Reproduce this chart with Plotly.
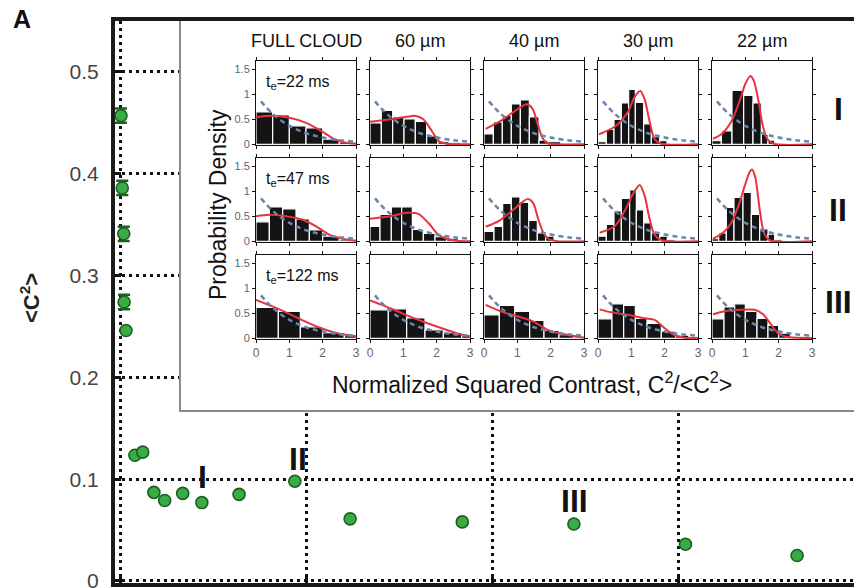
import plotly.graph_objects as go

W, H = 854, 588

# ---------------- main panel data ----------------
c2_x = [0.005, 0.012, 0.02, 0.022, 0.032, 0.08, 0.122, 0.182, 0.24, 0.337, 0.44, 0.64, 0.94,
        1.237, 1.84, 2.44, 3.04, 3.64]
c2_y = [0.457, 0.386, 0.341, 0.274, 0.246, 0.1235, 0.1265, 0.087, 0.079, 0.086, 0.077, 0.085,
        0.098, 0.061, 0.058, 0.056, 0.036, 0.025]
c2_err = [0.007, 0.007, 0.007, 0.007, 0.0, 0.0, 0.0, 0.0, 0.0, 0.0, 0.0, 0.0, 0.0, 0.0, 0.0, 0.0, 0.0, 0.0]
main_yticks = [0, 0.1, 0.2, 0.3, 0.4, 0.5]
main_yticktext = ["0", "0.1", "0.2", "0.3", "0.4", "0.5"]
main_xticks = [0, 1, 2, 3]

col_titles = ["FULL CLOUD", "60 µm", "40 µm", "30 µm", "22 µm"]
row_labels = ["t<sub>e</sub>=22 ms", "t<sub>e</sub>=47 ms", "t<sub>e</sub>=122 ms"]
row_numerals = ["I", "II", "III"]

# exponential speckle reference (blue dashed)
speckle_x = [0.15, 0.5, 1.0, 1.5, 2.0, 2.5, 3.0]
speckle_y = [0.86, 0.61, 0.37, 0.22, 0.135, 0.082, 0.05]

# ---------------- inset histograms: row 1 (22 ms) ----------------
p11_edges = [0, 0.5, 1.0, 1.5, 2.0, 2.5, 3.0]
p11_counts = [0.65, 0.59, 0.37, 0.33, 0.10, 0.04]
p11_fit_x = [0, 0.45, 1.0, 1.5, 2.0, 2.35, 2.7, 3.0]
p11_fit_y = [0.54, 0.57, 0.53, 0.43, 0.25, 0.10, 0.03, 0.01]

p12_edges = [0, 0.34, 0.68, 1.02, 1.36, 1.7, 2.04, 2.38, 2.72, 3.0]
p12_counts = [0.43, 0.68, 0.55, 0.51, 0.46, 0.17, 0.05, 0.03, 0.02]
p12_fit_x = [0, 0.6, 1.1, 1.35, 1.6, 1.85, 2.05, 2.3, 3.0]
p12_fit_y = [0.45, 0.50, 0.55, 0.57, 0.50, 0.27, 0.07, 0.01, 0.0]

p13_edges = [0, 0.28, 0.55, 0.82, 1.09, 1.36, 1.65, 1.92, 2.3]
p13_counts = [0.21, 0.45, 0.58, 0.81, 0.89, 0.55, 0.08, 0.05]
p13_fit_x = [0.05, 0.5, 1.0, 1.28, 1.45, 1.6, 1.75, 1.9, 2.2, 3.0]
p13_fit_y = [0.31, 0.47, 0.70, 0.80, 0.72, 0.43, 0.13, 0.02, 0.0, 0.0]

p14_edges = [0, 0.25, 0.48, 0.7, 0.92, 1.12, 1.37, 1.6, 1.85, 2.07]
p14_counts = [0.05, 0.30, 0.50, 0.83, 1.10, 0.84, 0.41, 0.15, 0.07]
p14_fit_x = [0.03, 0.5, 0.9, 1.1, 1.27, 1.4, 1.55, 1.7, 1.9, 3.0]
p14_fit_y = [0.20, 0.35, 0.65, 0.95, 1.07, 0.90, 0.45, 0.10, 0.01, 0.0]

p15_edges = [0, 0.28, 0.6, 0.95, 1.23, 1.48, 1.68, 1.88]
p15_counts = [0.07, 0.27, 1.08, 0.98, 0.83, 0.20, 0.08]
p15_fit_x = [0.03, 0.3, 0.6, 0.85, 1.0, 1.15, 1.25, 1.4, 1.5, 1.65, 1.85, 3.0]
p15_fit_y = [0.11, 0.21, 0.48, 0.91, 1.21, 1.37, 1.28, 0.85, 0.45, 0.11, 0.01, 0.0]

# ---------------- row 2 (47 ms) ----------------
p21_edges = [0, 0.4, 0.8, 1.2, 1.6, 2.0, 2.5, 3.0]
p21_counts = [0.39, 0.69, 0.65, 0.45, 0.23, 0.10, 0.03]
p21_fit_x = [0, 0.4, 0.9, 1.4, 1.8, 2.2, 2.6, 3.0]
p21_fit_y = [0.50, 0.53, 0.50, 0.43, 0.30, 0.13, 0.05, 0.01]

p22_edges = [0, 0.3, 0.64, 0.95, 1.27, 1.6, 1.95, 2.3, 2.65, 3.0]
p22_counts = [0.30, 0.54, 0.69, 0.69, 0.24, 0.16, 0.09, 0.05, 0.02]
p22_fit_x = [0, 0.6, 1.1, 1.45, 1.8, 2.05, 2.3, 2.6, 3.0]
p22_fit_y = [0.45, 0.50, 0.57, 0.55, 0.33, 0.13, 0.05, 0.01, 0.0]

p23_edges = [0, 0.3, 0.56, 0.82, 1.08, 1.34, 1.6, 1.85, 2.1]
p23_counts = [0.20, 0.30, 0.76, 0.89, 0.78, 0.42, 0.17, 0.10]
p23_fit_x = [0.05, 0.45, 0.84, 1.14, 1.32, 1.48, 1.63, 1.78, 1.93, 2.2, 3.0]
p23_fit_y = [0.29, 0.41, 0.61, 0.78, 0.85, 0.76, 0.44, 0.17, 0.05, 0.0, 0.0]

p24_edges = [0, 0.25, 0.48, 0.7, 0.95, 1.15, 1.37, 1.6, 1.85, 2.08, 2.3]
p24_counts = [0.10, 0.34, 0.61, 0.86, 1.03, 0.63, 0.37, 0.17, 0.10, 0.03]
p24_fit_x = [0.05, 0.5, 0.8, 1.05, 1.25, 1.4, 1.55, 1.7, 1.9, 3.0]
p24_fit_y = [0.17, 0.30, 0.61, 0.95, 1.13, 0.91, 0.44, 0.13, 0.02, 0.0]

p25_edges = [0, 0.2, 0.43, 0.66, 0.93, 1.18, 1.43, 1.68, 1.88, 2.1]
p25_counts = [0.05, 0.17, 0.68, 0.88, 0.98, 0.54, 0.25, 0.14, 0.03]
p25_fit_x = [0.03, 0.33, 0.58, 0.83, 0.98, 1.13, 1.2, 1.3, 1.43, 1.56, 1.73, 3.0]
p25_fit_y = [0.05, 0.17, 0.37, 0.78, 1.11, 1.39, 1.44, 1.28, 0.64, 0.17, 0.02, 0.0]

# ---------------- row 3 (122 ms) ----------------
p31_edges = [0, 0.67, 1.33, 2.0, 2.65, 3.0]
p31_counts = [0.62, 0.54, 0.23, 0.11, 0.05]
p31_fit_x = [0, 0.42, 1.0, 1.5, 2.0, 2.5, 3.0]
p31_fit_y = [0.77, 0.66, 0.49, 0.33, 0.19, 0.09, 0.04]

p32_edges = [0, 0.55, 1.1, 1.65, 2.2, 2.75, 3.0]
p32_counts = [0.57, 0.59, 0.41, 0.17, 0.11, 0.05]
p32_fit_x = [0, 0.4, 1.0, 1.6, 2.2, 2.7, 3.0]
p32_fit_y = [0.76, 0.66, 0.49, 0.33, 0.19, 0.08, 0.04]

p33_edges = [0, 0.46, 0.92, 1.37, 1.8, 2.25, 2.7, 3.0]
p33_counts = [0.47, 0.66, 0.54, 0.36, 0.16, 0.07, 0.03]
p33_fit_x = [0.05, 0.5, 1.0, 1.5, 1.93, 2.4, 2.85, 3.0]
p33_fit_y = [0.67, 0.54, 0.44, 0.33, 0.16, 0.08, 0.03, 0.01]

p34_edges = [0, 0.42, 0.77, 1.12, 1.47, 1.9, 2.33, 2.73, 3.0]
p34_counts = [0.39, 0.69, 0.66, 0.40, 0.30, 0.14, 0.06, 0.03]
p34_fit_x = [0.05, 0.4, 0.9, 1.4, 1.7, 2.0, 2.3, 2.6, 3.0]
p34_fit_y = [0.58, 0.52, 0.47, 0.40, 0.37, 0.20, 0.06, 0.01, 0.0]

p35_edges = [0, 0.36, 0.68, 1.0, 1.35, 1.68, 2.0, 2.35, 3.0]
p35_counts = [0.39, 0.63, 0.69, 0.54, 0.40, 0.26, 0.10, 0.03]
p35_fit_x = [0.03, 0.38, 0.88, 1.28, 1.53, 1.78, 1.98, 2.23, 3.0]
p35_fit_y = [0.48, 0.54, 0.57, 0.57, 0.48, 0.27, 0.10, 0.03, 0.0]

panels = [
    [(p11_edges, p11_counts, p11_fit_x, p11_fit_y), (p12_edges, p12_counts, p12_fit_x, p12_fit_y),
     (p13_edges, p13_counts, p13_fit_x, p13_fit_y), (p14_edges, p14_counts, p14_fit_x, p14_fit_y),
     (p15_edges, p15_counts, p15_fit_x, p15_fit_y)],
    [(p21_edges, p21_counts, p21_fit_x, p21_fit_y), (p22_edges, p22_counts, p22_fit_x, p22_fit_y),
     (p23_edges, p23_counts, p23_fit_x, p23_fit_y), (p24_edges, p24_counts, p24_fit_x, p24_fit_y),
     (p25_edges, p25_counts, p25_fit_x, p25_fit_y)],
    [(p31_edges, p31_counts, p31_fit_x, p31_fit_y), (p32_edges, p32_counts, p32_fit_x, p32_fit_y),
     (p33_edges, p33_counts, p33_fit_x, p33_fit_y), (p34_edges, p34_counts, p34_fit_x, p34_fit_y),
     (p35_edges, p35_counts, p35_fit_x, p35_fit_y)],
]

# ---------------- layout helpers ----------------
def fx(p):
    return p / W


def fy(p):
    return 1 - p / H


FONT = "Liberation Sans, Arial, Helvetica, sans-serif"
col_left = [256, 370, 484, 598, 712]
col_w = 100
row_bottom = [145, 242, 339]
row_h = 84

fig = go.Figure()
layout = dict(
    width=W, height=H, margin=dict(l=0, r=0, t=0, b=0, autoexpand=False),
    paper_bgcolor="white", plot_bgcolor="white", showlegend=False,
    font=dict(family=FONT, color="#222"),
)

# main axes
layout["xaxis"] = dict(
    domain=[fx(115), 1], range=[-0.027, 3.946], tickvals=main_xticks, showticklabels=False,
    ticks="inside", ticklen=6, tickwidth=3, tickcolor="#111", automargin=False,
    showline=True, linewidth=4, linecolor="#1a1a1a", mirror=True,
    showgrid=True, gridcolor="#111", gridwidth=2.5, griddash="3px,4px", zeroline=False,
)
layout["yaxis"] = dict(
    domain=[fy(583), fy(21)], range=[-0.002, 0.55], tickvals=main_yticks, ticktext=main_yticktext,
    ticks="inside", ticklen=6, tickwidth=3, tickcolor="#111", automargin=False,
    showline=True, linewidth=4, linecolor="#1a1a1a", ticklabeloverflow="allow",
    showgrid=True, gridcolor="#111", gridwidth=2.5, griddash="3px,4px", zeroline=False,
    tickfont=dict(size=21, color="#444"), ticklabelstandoff=8,
)

fig.add_trace(go.Scatter(
    x=c2_x, y=c2_y, mode="markers", xaxis="x", yaxis="y", cliponaxis=False,
    marker=dict(size=12, color="#3aac46", line=dict(color="#1d5e22", width=1.6)),
    error_y=dict(type="data", array=c2_err, color="#1d5e22", thickness=2.5, width=6),
))

# inset background axes
layout["xaxis2"] = dict(domain=[fx(181), 1], range=[0, 1], anchor="y2", showgrid=False, zeroline=False,
                        showticklabels=False, ticks="", showline=True, linewidth=1.5, linecolor="#8a8a8a",
                        automargin=False)
layout["yaxis2"] = dict(domain=[fy(410), fy(21)], range=[0, 1], anchor="x2", showgrid=False, zeroline=False,
                        showticklabels=False, ticks="", showline=True, linewidth=1.5, linecolor="#8a8a8a",
                        automargin=False)
fig.add_trace(go.Scatter(x=[], y=[], xaxis="x2", yaxis="y2", mode="markers"))

# inset panels
for r in range(3):
    for c in range(5):
        k = 3 + r * 5 + c
        edges, counts, fit_x, fit_y = panels[r][c]
        layout[f"xaxis{k}"] = dict(
            domain=[fx(col_left[c]), fx(col_left[c] + col_w)], range=[0, 3], anchor=f"y{k}",
            tickvals=[0, 1, 2, 3], showticklabels=(r == 2), ticks="outside", ticklen=3, tickwidth=1,
            tickcolor="#111", showline=True, linewidth=1, linecolor="#111", mirror="ticks",
            showgrid=False, zeroline=False, tickfont=dict(size=12, color="#666"), automargin=False,
        )
        layout[f"yaxis{k}"] = dict(
            domain=[fy(row_bottom[r]), fy(row_bottom[r] - row_h)], range=[-0.015, 1.67], anchor=f"x{k}",
            tickvals=[0, 0.5, 1, 1.5], ticktext=["0", "0.5", "1", "1.5"], showticklabels=(c == 0),
            ticks="outside", ticklen=3, tickwidth=1, tickcolor="#111", showline=True, linewidth=1,
            linecolor="#111", mirror="ticks", showgrid=False, zeroline=False,
            tickfont=dict(size=11, color="#666"), automargin=False,
        )
        centers = [(a + b) / 2 for a, b in zip(edges[:-1], edges[1:])]
        widths = [b - a for a, b in zip(edges[:-1], edges[1:])]
        fig.add_trace(go.Bar(
            x=centers, y=counts, width=widths, xaxis=f"x{k}", yaxis=f"y{k}",
            marker=dict(color="#141414", line=dict(color="white", width=1.2)),
        ))
        fig.add_trace(go.Scatter(
            x=fit_x, y=fit_y, mode="lines", xaxis=f"x{k}", yaxis=f"y{k}",
            line=dict(color="#e8323e", width=2, shape="spline", smoothing=0.8),
        ))
        fig.add_trace(go.Scatter(
            x=speckle_x, y=speckle_y, mode="lines", xaxis=f"x{k}", yaxis=f"y{k}",
            line=dict(color="#6a86a8", width=2.5, dash="5px,4px", shape="spline"),
        ))

ann = []
for c, t in enumerate(col_titles):
    ann.append(dict(x=fx(col_left[c] + col_w / 2), y=fy(41), xref="paper", yref="paper", text=t,
                    showarrow=False, xanchor="center", yanchor="middle", font=dict(size=18, color="#111")))
for r, t in enumerate(row_labels):
    ann.append(dict(x=fx(264), y=fy(row_bottom[r] - row_h + 21), xref="paper", yref="paper", text=t,
                    showarrow=False, xanchor="left", yanchor="middle", font=dict(size=16, color="#111")))
for r, t in enumerate(row_numerals):
    ann.append(dict(x=fx(838), y=fy([109, 210, 302][r]), xref="paper", yref="paper", text="<b>" + t + "</b>",
                    showarrow=False, xanchor="center", yanchor="middle", font=dict(size=32, color="#111")))
ann.append(dict(x=fx(218), y=fy(205), xref="paper", yref="paper", text="Probability Density",
                textangle=-90, showarrow=False, xanchor="center", yanchor="middle",
                font=dict(size=23, color="#111")))
ann.append(dict(x=fx(532), y=fy(383), xref="paper", yref="paper",
                text="Normalized Squared Contrast, C<sup>2</sup>/&lt;C<sup>2</sup>&gt;",
                showarrow=False, xanchor="center", yanchor="middle", font=dict(size=23, color="#111")))
# numerals in main panel (data coords)
for t, xv, yv in [("I", 0.446, 0.102), ("II", 0.957, 0.12), ("III", 2.446, 0.079)]:
    ann.append(dict(x=xv, y=yv, xref="x", yref="y", text="<b>" + t + "</b>", showarrow=False,
                    xanchor="center", yanchor="middle", font=dict(size=32, color="#111")))
ann.append(dict(x=fx(30), y=fy(298), xref="paper", yref="paper", text="<b>&lt;C<sup>2</sup>&gt;</b>",
                textangle=-90, showarrow=False, xanchor="center", yanchor="middle",
                font=dict(size=22, color="#222")))
ann.append(dict(x=fx(22), y=fy(19), xref="paper", yref="paper", text="<b>A</b>", showarrow=False,
                xanchor="center", yanchor="middle", font=dict(size=25, color="#111")))
layout["annotations"] = ann

fig.update_layout(**layout)
fig.write_html("out.html")
